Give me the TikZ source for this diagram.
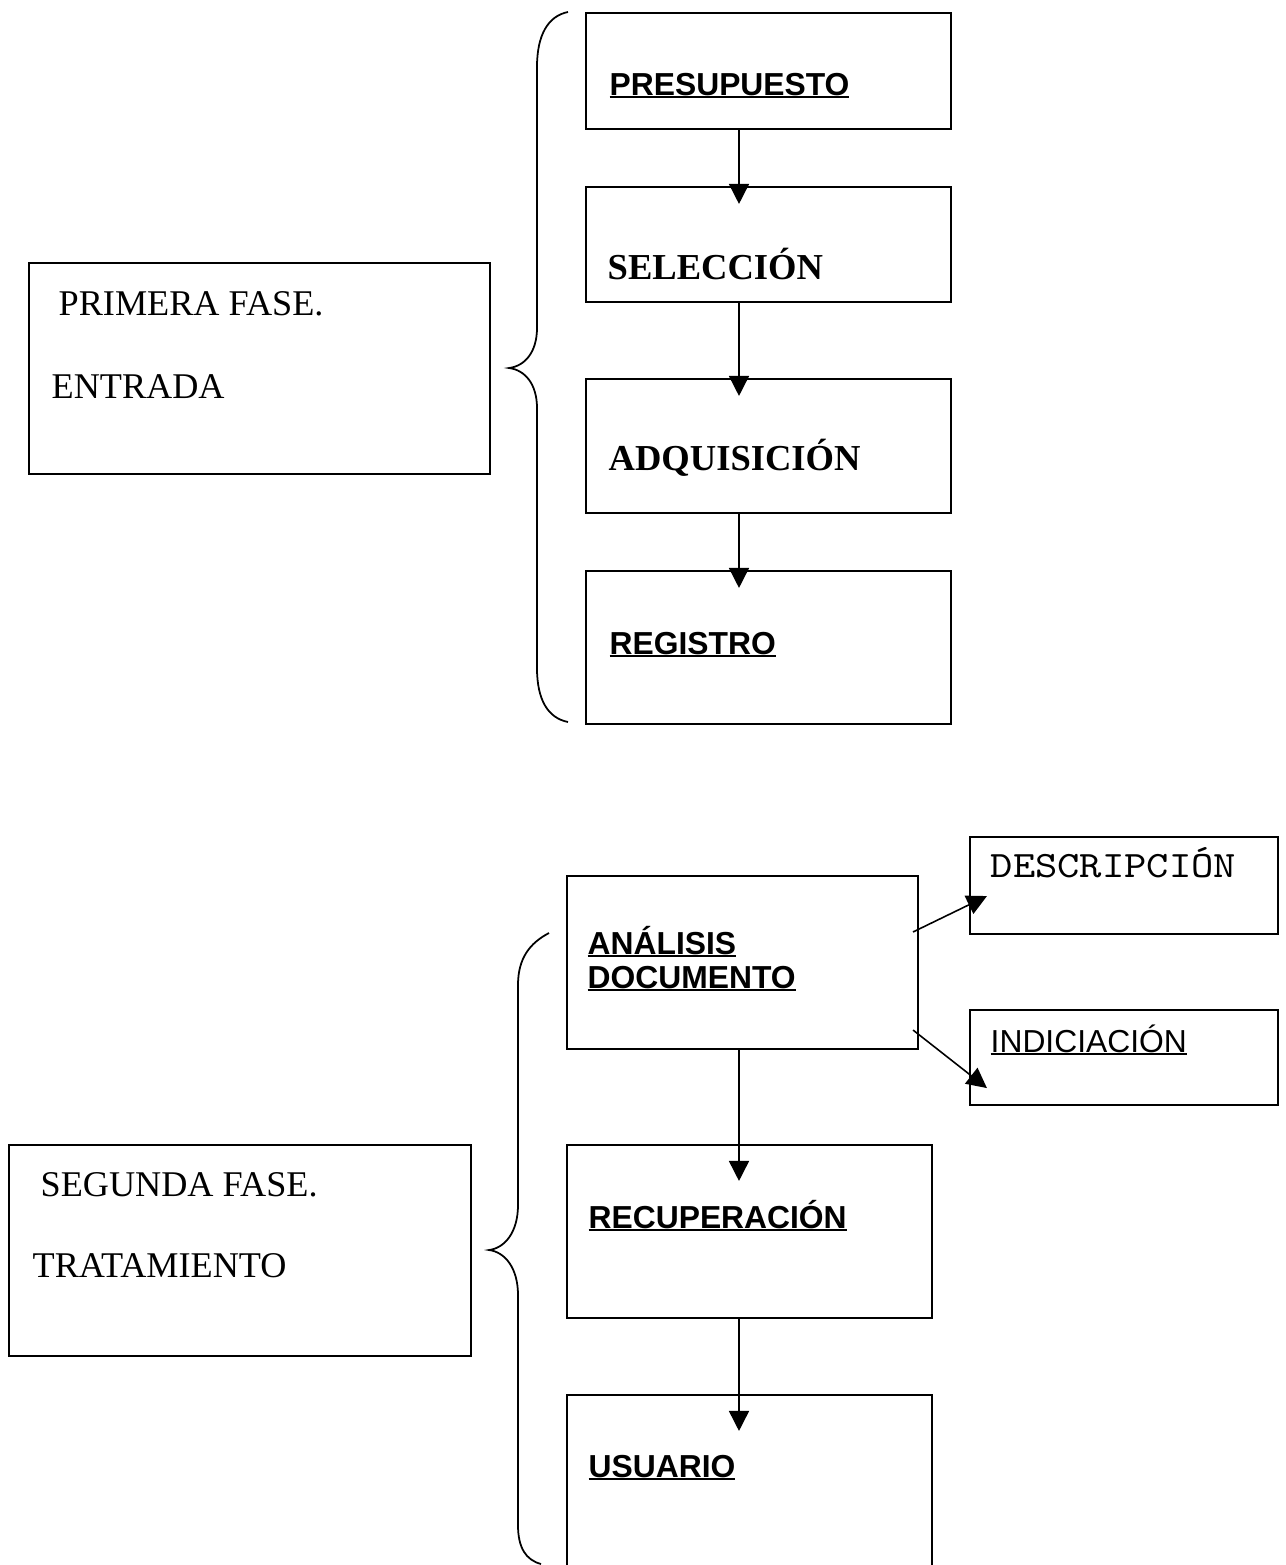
\documentclass[tikz,border=0pt]{standalone}
\usepackage{fontspec}
\setmainfont{Liberation Serif}
\setsansfont{Liberation Sans}
\setmonofont[FakeStretch=1.14]{Latin Modern Mono}
\usepackage{tikz}
\usetikzlibrary{positioning,arrows.meta,fit,calc}

% underline close to the baseline, a bit heavier than \underline
\newcommand{\ulbox}[1]{\leavevmode\setbox0=\hbox{#1}\rlap{\vrule width\wd0 height -0.25pt depth 0.9pt}\box0}

\begin{document}
\begin{tikzpicture}[
  x=0.1mm, y=-0.1mm,
  box/.style={draw,line width=0.6pt,inner sep=0pt},
  hd/.style={anchor=base west,inner sep=0pt,font=\sffamily\bfseries\fontsize{9.05}{9.64}\selectfont},
  fase/.style={anchor=base west,inner sep=0pt,font=\fontsize{10.3}{12}\selectfont},
  bhd/.style={anchor=base west,inner sep=0pt,font=\bfseries\fontsize{10.4}{12}\selectfont},
  sub/.style={anchor=base west,inner sep=0pt,font=\sffamily\fontsize{9.05}{10}\selectfont},
  brc/.style={line width=0.5pt},
  arr/.style={->,line width=0.45pt},
  >={Triangle[length=2mm,width=2mm]}
]
\useasboundingbox (0,0) rectangle (1285,1565);
\clip (0,0) rectangle (1285,1565);
\coordinate (col) at (739,0);
% ---- primera fase ----
\node[box,fit={(29,263) (490,474)}] (f1) {};
\node[fase] at (58,315) {PRIMERA FASE.};
\node[fase] at (51,398) {ENTRADA};
\draw[brc] (568,12) .. controls (548,16) and (537,35) .. (537,67) -- (537,328)
  .. controls (537,352) and (525,366) .. (509,368) .. controls (525,370) and (537,384) .. (537,408)
  -- (537,668) .. controls (537,700) and (548,718) .. (568,722);
\node[box,fit={(586,13) (951,129)}] (pres) {};
\node[box,fit={(586,187) (951,302)}] (sel) {};
\node[box,fit={(586,379) (951,513)}] (adq) {};
\node[box,fit={(586,571) (951,724)}] (reg) {};
\node[hd] at (609,95) {\ulbox{PRESUPUESTO}};
\node[bhd] at (607,279) {SELECCIÓN};
\node[bhd] at (608,470) {ADQUISICIÓN};
\node[hd] at (609,654) {\ulbox{REGISTRO}};
\draw[arr] (pres.south -| col) -- ($(sel.north -| col)+(0,18)$);
\draw[arr] (sel.south -| col) -- ($(adq.north -| col)+(0,18)$);
\draw[arr] (adq.south -| col) -- ($(reg.north -| col)+(0,18)$);
% ---- segunda fase ----
\node[box,fit={(9,1145) (471,1356)}] (f2) {};
\node[fase] at (40,1196) {SEGUNDA FASE.};
\node[fase] at (32,1277) {TRATAMIENTO};
\draw[brc] (549,933) .. controls (530,943) and (518,958) .. (518,985) -- (518,1205)
  .. controls (518,1232) and (505,1248) .. (489,1250) .. controls (505,1252) and (518,1268) .. (518,1295)
  -- (518,1525) .. controls (518,1548) and (526,1560) .. (541,1564);
\node[box,fit={(567,876) (918,1049)}] (ana) {};
\node[box,fit={(970,837) (1278,934)}] (desc) {};
\node[box,fit={(970,1010) (1278,1105)}] (indi) {};
\node[box,fit={(567,1145) (932,1318)}] (rec) {};
\node[box,fit={(567,1395) (932,1620)}] (usu) {};
\node[hd,align=left] at (587,988) {\ulbox{ANÁLISIS}\\\ulbox{DOCUMENTO}};
\node[anchor=base west,inner sep=0pt,font=\ttfamily\fontsize{10.6}{12}\selectfont] at (990,877) {DESCRIPCIÓN};
\node[sub] at (990,1052) {\ulbox{INDICIACIÓN}};
\node[hd] at (588,1228) {\ulbox{RECUPERACIÓN}};
\node[hd] at (588,1477) {\ulbox{USUARIO}};
\draw[arr] ($(ana.north east)+(-6,57)$) -- ($(desc.south west)+(18,-39)$);
\draw[arr] ($(ana.south east)+(-6,-20)$) -- ($(indi.south west)+(18,-18)$);
\draw[arr] (ana.south -| col) -- ($(rec.north -| col)+(0,37)$);
\draw[arr] (rec.south -| col) -- ($(usu.north -| col)+(0,37)$);
\end{tikzpicture}
\end{document}
